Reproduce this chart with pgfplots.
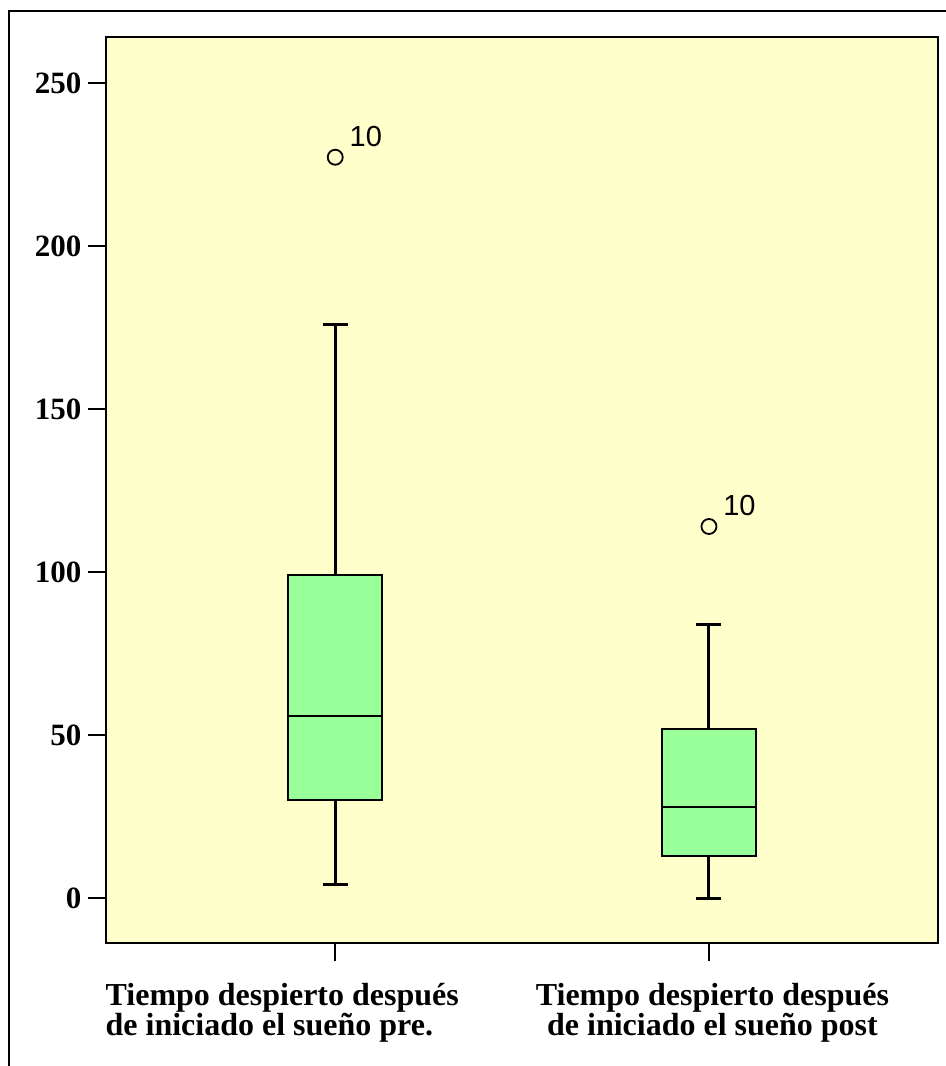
\documentclass[border=0pt]{standalone}
\usepackage{pgfplots}
\pgfplotsset{compat=1.18}
\usepackage{fontspec}
\setmainfont{Liberation Serif}
\newfontfamily\arial{Liberation Sans}
\definecolor{bgyellow}{RGB}{255,255,204}
\definecolor{boxgreen}{RGB}{153,255,153}
\begin{document}
\begin{tikzpicture}
\path[use as bounding box] (0,0) rectangle (473pt,533pt);
\draw[line width=1.2pt] (4.5pt,-20pt) -- (4.5pt,527.5pt) -- (500pt,527.5pt);
\begin{axis}[
 at={(53.25pt,61.5pt)}, anchor=south west,
 scale only axis, width=415.6pt, height=453pt,
 xmin=0.388, xmax=2.612, ymin=-13.8, ymax=264.2,
 axis background/.style={fill=bgyellow},
 axis line style={line width=1pt},
 tick align=outside, xtick pos=bottom, ytick pos=left, major tick length=9pt,
 tick style={black, line width=1pt},
 xtick={2},
 xticklabels={{Tiempo despierto después\\de iniciado el sueño post}},
 xticklabel style={align=center, font=\fontsize{16}{15}\selectfont\bfseries, yshift=-7.5pt, xshift=1.75pt},
 extra x ticks={1},
 extra x tick labels={{Tiempo despierto después\\de iniciado el sueño pre.}},
 extra x tick style={xticklabel style={align=left, anchor=north west, inner xsep=0pt, xshift=-116.75pt}},
 ytick={0,50,100,150,200,250},
 yticklabels={0,50,100,150,200,250},
 yticklabel style={font=\fontsize{15.5}{18}\selectfont\bfseries},
 clip=false,
]
% whiskers
\addplot[black, line width=1.5pt] coordinates {(1,99) (1,176)};
\addplot[black, line width=1.5pt] coordinates {(1,30) (1,4)};
\addplot[black, line width=1.5pt] coordinates {(0.9665,176) (1.0335,176)};
\addplot[black, line width=1.5pt] coordinates {(0.9665,4) (1.0335,4)};
\addplot[black, line width=1.5pt] coordinates {(2,52) (2,84)};
\addplot[black, line width=1.5pt] coordinates {(2,13) (2,0)};
\addplot[black, line width=1.5pt] coordinates {(1.9665,84) (2.0335,84)};
\addplot[black, line width=1.5pt] coordinates {(1.9665,0) (2.0335,0)};
% boxes
\addplot[draw=black, fill=boxgreen, line width=1pt] coordinates {(0.874,30) (1.126,30) (1.126,99) (0.874,99)} -- cycle;
\addplot[draw=black, fill=boxgreen, line width=1pt] coordinates {(1.874,13) (2.126,13) (2.126,52) (1.874,52)} -- cycle;
% medians
\addplot[black, line width=1pt] coordinates {(0.874,56) (1.126,56)};
\addplot[black, line width=1pt] coordinates {(1.874,28) (2.126,28)};
% outliers
\addplot[only marks, mark=o, mark size=3.75pt, mark options={black, line width=0.9pt}] coordinates {(1,227.3) (2,114)};
\node[anchor=base west, inner sep=0pt, font={\arial\fontsize{14.5}{16}\selectfont}, xshift=7pt, yshift=5.5pt] at (axis cs:1,227.3) {10};
\node[anchor=base west, inner sep=0pt, font={\arial\fontsize{14.5}{16}\selectfont}, xshift=7pt, yshift=5.5pt] at (axis cs:2,114) {10};
\end{axis}
\end{tikzpicture}
\end{document}
